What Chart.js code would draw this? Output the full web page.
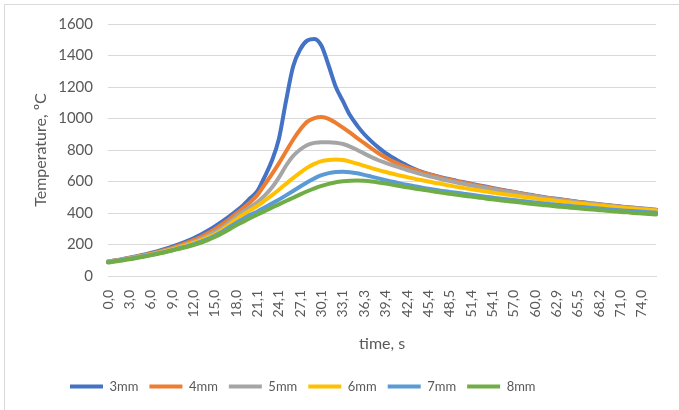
<!DOCTYPE html>
<html>
<head>
<meta charset="utf-8">
<script src="https://cdn.jsdelivr.net/npm/chart.js@4/dist/chart.umd.min.js"></script>
<style>
    html, body { margin: 0; padding: 0; background: #fff; }
    #wrap { position: relative; width: 679px; height: 410px; }
</style>
</head>
<body>
<div id="wrap"><canvas id="tempChart" width="679" height="410"></canvas></div>
<script>
// time, s (category axis, one tick label every 3rd point)
const times = [
    0.0, 1.0, 2.0, 3.0, 4.0, 5.0, 6.0, 7.0, 8.0, 9.0,
    10.0, 11.0, 12.0, 13.0, 14.0, 15.0, 16.0, 17.0, 18.0, 19.0,
    20.1, 21.1, 22.1, 23.1, 24.1, 25.1, 26.1, 27.1, 28.1, 29.1,
    30.1, 31.1, 32.1, 33.1, 34.2, 35.2, 36.3, 37.3, 38.4, 39.4,
    40.4, 41.4, 42.4, 43.4, 44.4, 45.4, 46.4, 47.5, 48.5, 49.5,
    50.4, 51.4, 52.3, 53.2, 54.1, 55.1, 56.0, 57.0, 58.0, 59.0,
    60.0, 61.0, 61.9, 62.9, 63.8, 64.6, 65.5, 66.4, 67.3, 68.2,
    69.1, 70.1, 71.0, 72.0, 73.0, 74.0, 75.0, 76.0,
];
const tickLabels = [
    '0,0', '3,0', '6,0', '9,0', '12,0', '15,0', '18,0', '21,1', '24,1', '27,1',
    '30,1', '33,1', '36,3', '39,4', '42,4', '45,4', '48,5', '51,4', '54,1', '57,0',
    '60,0', '62,9', '65,5', '68,2', '71,0', '74,0',
];
const tickEvery = 3;
const yTicks = [0, 200, 400, 600, 800, 1000, 1200, 1400, 1600];

// temperature, °C
const t3mm = [
    92, 99, 107, 116, 125, 135, 146, 158, 172, 187,
    203, 220, 240, 262, 287, 315, 345, 377, 412, 450,
    495, 540, 630, 730, 870, 1110, 1330, 1440, 1495, 1505,
    1460, 1335, 1200, 1110, 1020, 955, 900, 855, 815, 780,
    752, 725, 702, 680, 662, 648, 636, 624, 614, 604,
    595, 586, 577, 568, 559, 550, 542, 534, 526, 518,
    510, 503, 496, 490, 484, 478, 472, 466, 461, 456,
    451, 446, 441, 437, 433, 429, 425, 421,
];
const t4mm = [
    91, 98, 106, 114, 123, 132, 142, 153, 165, 179,
    194, 210, 228, 248, 271, 297, 327, 360, 396, 432,
    470, 515, 580, 645, 715, 790, 865, 930, 980, 1003,
    1010, 998, 972, 942, 910, 876, 843, 810, 779, 752,
    728, 708, 690, 675, 660, 646, 633, 621, 611, 601,
    592, 583, 574, 565, 556, 548, 540, 532, 524, 516,
    508, 501, 494, 488, 482, 476, 470, 464, 459, 454,
    449, 444, 439, 435, 431, 427, 423, 419,
];
const t5mm = [
    90, 97, 105, 113, 121, 130, 139, 149, 160, 172,
    186, 201, 217, 235, 255, 280, 307, 340, 378, 410,
    438, 470, 510, 560, 625, 700, 762, 803, 832, 845,
    850, 850, 846, 838, 822, 800, 777, 755, 735, 718,
    702, 688, 673, 660, 647, 635, 624, 613, 603, 593,
    584, 575, 567, 559, 551, 543, 535, 528, 520, 513,
    506, 499, 492, 486, 480, 474, 468, 463, 458, 453,
    448, 443, 438, 434, 430, 426, 422, 418,
];
const t6mm = [
    89, 96, 103, 111, 119, 127, 136, 146, 157, 169,
    182, 196, 210, 227, 246, 265, 293, 325, 358, 390,
    418, 445, 478, 512, 548, 585, 622, 657, 688, 712,
    729, 737, 740, 736, 726, 713, 699, 685, 672, 660,
    649, 638, 628, 618, 609, 600, 591, 582, 574, 566,
    558, 551, 544, 537, 530, 523, 517, 511, 505, 499,
    493, 487, 482, 477, 471, 466, 461, 457, 452, 448,
    443, 439, 435, 431, 427, 423, 420, 416,
];
const t7mm = [
    88, 95, 102, 109, 117, 125, 134, 143, 153, 164,
    176, 188, 201, 216, 234, 256, 280, 308, 336, 362,
    388, 410, 435, 460, 485, 512, 540, 568, 595, 620,
    640, 653, 660, 662, 659, 652, 642, 631, 620, 609,
    598, 588, 579, 570, 562, 554, 547, 540, 534, 528,
    522, 516, 510, 504, 498, 492, 487, 482, 477, 472,
    467, 462, 457, 453, 448, 444, 440, 436, 432, 428,
    424, 421, 417, 414, 411, 408, 405, 402,
];
const t8mm = [
    86, 92, 99, 106, 114, 122, 131, 141, 151, 162,
    173, 184, 196, 211, 228, 248, 270, 295, 322, 345,
    368, 390, 412, 434, 455, 476, 497, 518, 538, 556,
    572, 585, 595, 601, 605, 606, 604, 600, 594, 587,
    579, 571, 563, 556, 549, 542, 535, 528, 522, 516,
    510, 504, 498, 492, 487, 481, 476, 471, 466, 461,
    456, 451, 447, 442, 438, 434, 430, 426, 422, 418,
    414, 411, 407, 404, 400, 397, 394, 391,
];

const seriesNames = ['3mm', '4mm', '5mm', '6mm', '7mm', '8mm'];
const seriesValues = [t3mm, t4mm, t5mm, t6mm, t7mm, t8mm];
const seriesColors = ['#4472C4', '#ED7D31', '#A5A5A5', '#FFC000', '#5B9BD5', '#70AD47'];

const textColor = '#595959';
const gridColor = '#d9d9d9';
const fontFamily = 'Lato, "Open Sans", sans-serif';

const datasets = seriesNames.map((name, i) => ({
    label: name,
    data: seriesValues[i],
    borderColor: seriesColors[i],
    backgroundColor: seriesColors[i],
    borderWidth: 4,
    borderCapStyle: 'round',
    borderJoinStyle: 'round',
    pointRadius: 0,
    cubicInterpolationMode: 'monotone',
    order: seriesNames.length - i,   // last series drawn on top, like Excel
}));

// chart frame (left / top edges of the Excel chart area)
const frameBorder = {
    id: 'frameBorder',
    beforeDraw(chart) {
        const ctx = chart.ctx;
        ctx.save();
        ctx.strokeStyle = gridColor;
        ctx.lineWidth = 1;
        ctx.strokeRect(4.5, 4.5, 720, 440);
        ctx.restore();
    }
};

// legend starts left of centre, as in the original
const legendShift = {
    id: 'legendShift',
    afterLayout(chart) {
        chart.legend.left = 70 - chart.legend.options.labels.padding;
    }
};

const tempChart = new Chart(document.getElementById('tempChart'), {
    type: 'line',
    data: {
        labels: times.map(t => t.toFixed(1).replace('.', ',')),
        datasets: datasets,
    },
    options: {
        responsive: false,
        animation: false,
        layout: {
            padding: { top: 24, right: 14, bottom: 7, left: 0 }
        },
        scales: {
            x: {
                type: 'category',
                offset: false,
                grid: { display: false },
                border: { display: true, color: gridColor, width: 1 },
                ticks: {
                    autoSkip: false,
                    minRotation: 90,
                    maxRotation: 90,
                    padding: 6,
                    color: textColor,
                    font: { family: fontFamily, size: 14 },
                    callback: (value, index) => index % tickEvery === 0 ? tickLabels[index / tickEvery] : '',
                },
                title: {
                    display: true,
                    text: 'time, s',
                    color: textColor,
                    font: { family: fontFamily, size: 16 },
                    padding: { top: 0, bottom: 16 },
                },
                afterFit: scale => { scale.height = 93; },
            },
            y: {
                min: 0,
                max: 1600,
                grid: { color: gridColor, lineWidth: 1, drawTicks: false },
                border: { display: false },
                afterBuildTicks: scale => { scale.ticks = yTicks.map(v => ({ value: v })); },
                ticks: {
                    padding: 15,
                    color: textColor,
                    font: { family: fontFamily, size: 15 },
                    callback: value => String(value),
                },
                title: {
                    display: true,
                    text: 'Temperature, ºC',
                    color: textColor,
                    font: { family: fontFamily, size: 16 },
                    padding: { top: 31, bottom: 0 },
                },
                afterFit: scale => { scale.width = 108; },
            },
        },
        plugins: {
            legend: {
                position: 'bottom',
                align: 'start',
                labels: {
                    usePointStyle: true,
                    pointStyle: 'line',
                    pointStyleWidth: 33,
                    boxHeight: 4,
                    padding: 11,
                    color: textColor,
                    font: { family: fontFamily, size: 13 },
                    sort: (a, b) => a.datasetIndex - b.datasetIndex,
                },
            },
            tooltip: { enabled: false },
        },
    },
    plugins: [frameBorder, legendShift],
});
</script>
</body>
</html>
